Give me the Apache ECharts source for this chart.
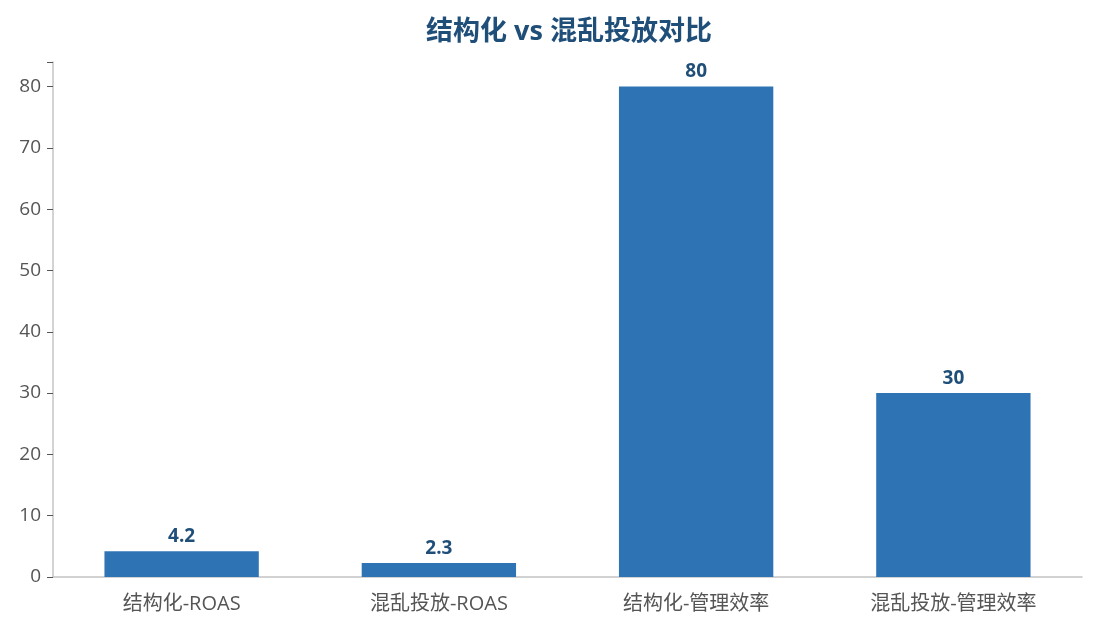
<!DOCTYPE html>
<html>
<head>
<meta charset="utf-8">
<script src="https://cdn.jsdelivr.net/npm/echarts@6/dist/echarts.min.js"></script>
<style>
  html, body { margin: 0; padding: 0; background: #fff; }
  #chart { width: 1095px; height: 630px; }
</style>
</head>
<body>
<div id="chart"></div>
<script>
const categories = ['结构化-ROAS', '混乱投放-ROAS', '结构化-管理效率', '混乱投放-管理效率'];
const values = [4.2, 2.3, 80, 30];
const yTicks = [0, 10, 20, 30, 40, 50, 60, 70, 80];

const font = '"Open Sans", "Noto Sans CJK SC", sans-serif';
const chart = echarts.init(document.getElementById('chart'));

chart.setOption({
  animation: false,
  title: {
    text: '结构化 vs 混乱投放对比',
    left: 564,
    textAlign: 'center',
    top: 14,
    textStyle: { fontFamily: font, fontSize: 27, fontWeight: 'bold', color: '#1f4e79' }
  },
  grid: { left: 53, right: 13, top: 62, bottom: 53 },
  xAxis: {
    type: 'category',
    data: categories,
    axisLine: { lineStyle: { color: '#c4c4c4', width: 1.5 } },
    axisTick: { alignWithLabel: true, length: 6, lineStyle: { color: '#555' } },
    axisLabel: { fontFamily: font, fontSize: 20, color: '#555', margin: 17 }
  },
  yAxis: {
    type: 'value',
    min: 0,
    max: 84,
    interval: 10,
    splitLine: { show: false },
    axisLine: { show: true, lineStyle: { color: '#c4c4c4', width: 1.5 } },
    axisTick: { show: true, length: 6, lineStyle: { color: '#555' } },
    axisLabel: {
      fontFamily: font, fontSize: 19, color: '#555', margin: 12,
      formatter: v => yTicks.includes(v) ? String(v) : ''
    }
  },
  series: [{
    type: 'bar',
    data: values,
    barWidth: '60%',
    itemStyle: { color: '#2e74b5' },
    label: {
      show: true,
      position: 'top',
      distance: 5,
      fontFamily: font,
      fontSize: 19,
      fontWeight: 'bold',
      color: '#1f4e79'
    }
  }]
});
</script>
</body>
</html>
